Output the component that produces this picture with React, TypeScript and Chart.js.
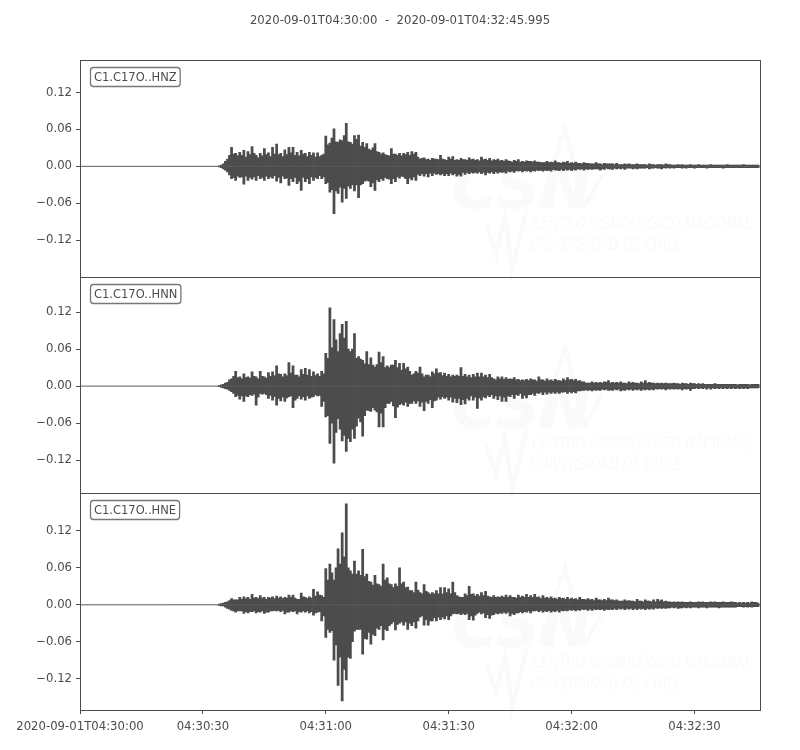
import { Chart, registerables, type Plugin } from "chart.js";
import { useEffect, useRef } from "react";

Chart.register(...registerables);

const TITLE = "2020-09-01T04:30:00  -  2020-09-01T04:32:45.995";
const INK = "#4c4c4c";
const FONT = "'DejaVu Sans'";
const TEXT_SIZE = 11.7;

// seconds after 04:30:00; before the onset the traces sit on zero
const ONSET = 34;
const END = 165.995;
const TIME_TICKS = ["2020-09-01T04:30:00", "04:30:30", "04:31:00", "04:31:30", "04:32:00", "04:32:30"];
const AMP_TICKS = [-0.12, -0.06, 0, 0.06, 0.12];
const CHANNELS = ["C1.C17O..HNZ", "C1.C17O..HNN", "C1.C17O..HNE"];
const baselineTimes = [0, END];
const baseline = [0, 0];

// swing on the whole second: first row is 34-39 s, then rows of ten
const hnzHigh = [
  0.001, 0.004, 0.012, 0.031, 0.021, 0.023,
  0.026, 0.024, 0.032, 0.018, 0.021, 0.029, 0.022, 0.031, 0.036, 0.021,
  0.027, 0.031, 0.031, 0.023, 0.026, 0.021, 0.023, 0.022, 0.022, 0.018,
  0.049, 0.038, 0.061, 0.039, 0.042, 0.07, 0.039, 0.05, 0.051, 0.039,
  0.037, 0.026, 0.037, 0.023, 0.022, 0.018, 0.029, 0.02, 0.021, 0.021,
  0.023, 0.024, 0.023, 0.012, 0.014, 0.012, 0.013, 0.012, 0.018, 0.011,
  0.015, 0.016, 0.011, 0.013, 0.011, 0.014, 0.012, 0.011, 0.015, 0.012,
  0.013, 0.011, 0.012, 0.01, 0.011, 0.008, 0.01, 0.011, 0.008, 0.009,
  0.008, 0.009, 0.007, 0.006, 0.008, 0.007, 0.009, 0.006, 0.007, 0.008,
  0.006, 0.007, 0.005, 0.006, 0.005, 0.004, 0.006, 0.004, 0.005, 0.004,
  0.004, 0.005, 0.003, 0.004, 0.004, 0.003, 0.004, 0.003, 0.003, 0.004,
  0.003, 0.003, 0.003, 0.004, 0.003, 0.002, 0.003, 0.003, 0.002, 0.003,
  0.002, 0.003, 0.002, 0.002, 0.003, 0.002, 0.002, 0.002, 0.003, 0.002,
  0.002, 0.002, 0.003, 0.002, 0.002, 0.002
];
const hnzLow = [
  -0.001, -0.004, -0.009, -0.02, -0.023, -0.018,
  -0.029, -0.023, -0.021, -0.023, -0.02, -0.023, -0.02, -0.019, -0.024, -0.027,
  -0.02, -0.031, -0.025, -0.028, -0.039, -0.025, -0.028, -0.023, -0.02, -0.02,
  -0.028, -0.042, -0.077, -0.044, -0.058, -0.052, -0.036, -0.04, -0.051, -0.028,
  -0.023, -0.033, -0.039, -0.025, -0.023, -0.02, -0.028, -0.025, -0.019, -0.017,
  -0.028, -0.022, -0.023, -0.015, -0.016, -0.017, -0.015, -0.013, -0.014, -0.015,
  -0.015, -0.014, -0.016, -0.016, -0.013, -0.012, -0.011, -0.011, -0.012, -0.014,
  -0.011, -0.012, -0.011, -0.01, -0.011, -0.009, -0.01, -0.008, -0.009, -0.008,
  -0.009, -0.008, -0.007, -0.008, -0.007, -0.008, -0.006, -0.007, -0.007, -0.006,
  -0.007, -0.006, -0.005, -0.006, -0.005, -0.005, -0.004, -0.006, -0.005, -0.004,
  -0.005, -0.004, -0.004, -0.005, -0.003, -0.004, -0.004, -0.003, -0.003, -0.004,
  -0.003, -0.003, -0.004, -0.003, -0.003, -0.003, -0.002, -0.003, -0.003, -0.002,
  -0.003, -0.002, -0.002, -0.003, -0.002, -0.002, -0.002, -0.003, -0.002, -0.002,
  -0.002, -0.002, -0.002, -0.002, -0.002, -0.002
];
const hnnHigh = [
  0.001, 0.003, 0.006, 0.012, 0.024, 0.015,
  0.02, 0.015, 0.023, 0.015, 0.024, 0.015, 0.022, 0.023, 0.033, 0.019,
  0.02, 0.038, 0.033, 0.018, 0.027, 0.029, 0.027, 0.023, 0.02, 0.024,
  0.053, 0.127, 0.108, 0.056, 0.1, 0.105, 0.056, 0.085, 0.048, 0.042,
  0.056, 0.046, 0.031, 0.055, 0.048, 0.033, 0.034, 0.042, 0.037, 0.037,
  0.031, 0.018, 0.024, 0.031, 0.015, 0.018, 0.023, 0.028, 0.022, 0.021,
  0.019, 0.018, 0.018, 0.03, 0.019, 0.018, 0.019, 0.021, 0.021, 0.018,
  0.019, 0.012, 0.015, 0.015, 0.014, 0.012, 0.014, 0.011, 0.01, 0.011,
  0.012, 0.01, 0.015, 0.01, 0.012, 0.01, 0.011, 0.009, 0.012, 0.014,
  0.011, 0.011, 0.009, 0.007, 0.005, 0.007, 0.006, 0.006, 0.007, 0.009,
  0.006, 0.006, 0.007, 0.005, 0.007, 0.006, 0.005, 0.007, 0.009, 0.006,
  0.005, 0.005, 0.005, 0.005, 0.004, 0.005, 0.004, 0.005, 0.004, 0.005,
  0.004, 0.004, 0.004, 0.003, 0.003, 0.004, 0.003, 0.003, 0.003, 0.003,
  0.003, 0.003, 0.003, 0.003, 0.003, 0.003
];
const hnnLow = [
  -0.001, -0.003, -0.005, -0.009, -0.017, -0.021,
  -0.025, -0.017, -0.015, -0.031, -0.012, -0.012, -0.02, -0.023, -0.031, -0.024,
  -0.025, -0.017, -0.035, -0.02, -0.021, -0.023, -0.02, -0.017, -0.016, -0.033,
  -0.05, -0.093, -0.125, -0.053, -0.089, -0.106, -0.09, -0.085, -0.052, -0.081,
  -0.039, -0.041, -0.039, -0.066, -0.066, -0.028, -0.025, -0.051, -0.03, -0.031,
  -0.033, -0.028, -0.028, -0.033, -0.04, -0.028, -0.035, -0.023, -0.021, -0.02,
  -0.023, -0.026, -0.027, -0.03, -0.029, -0.023, -0.023, -0.036, -0.023, -0.019,
  -0.017, -0.02, -0.022, -0.025, -0.025, -0.017, -0.02, -0.015, -0.02, -0.019,
  -0.014, -0.015, -0.012, -0.014, -0.013, -0.012, -0.012, -0.012, -0.01, -0.012,
  -0.011, -0.011, -0.008, -0.007, -0.007, -0.008, -0.007, -0.007, -0.006, -0.007,
  -0.007, -0.006, -0.008, -0.007, -0.006, -0.007, -0.006, -0.007, -0.006, -0.006,
  -0.006, -0.005, -0.005, -0.006, -0.005, -0.005, -0.005, -0.006, -0.005, -0.007,
  -0.004, -0.004, -0.004, -0.005, -0.005, -0.004, -0.004, -0.004, -0.004, -0.004,
  -0.004, -0.004, -0.004, -0.004, -0.003, -0.003
];
const hneHigh = [
  0.001, 0.003, 0.005, 0.01, 0.008, 0.012,
  0.013, 0.012, 0.017, 0.012, 0.015, 0.012, 0.012, 0.013, 0.014, 0.013,
  0.012, 0.016, 0.016, 0.009, 0.019, 0.012, 0.013, 0.025, 0.021, 0.015,
  0.059, 0.066, 0.04, 0.091, 0.117, 0.164, 0.055, 0.071, 0.055, 0.09,
  0.05, 0.037, 0.048, 0.033, 0.066, 0.044, 0.033, 0.034, 0.06, 0.037,
  0.029, 0.023, 0.037, 0.02, 0.033, 0.02, 0.02, 0.023, 0.028, 0.028,
  0.026, 0.037, 0.015, 0.012, 0.018, 0.03, 0.018, 0.017, 0.02, 0.022,
  0.013, 0.015, 0.013, 0.014, 0.016, 0.015, 0.012, 0.016, 0.014, 0.017,
  0.015, 0.017, 0.013, 0.015, 0.012, 0.013, 0.011, 0.012, 0.011, 0.012,
  0.011, 0.01, 0.012, 0.009, 0.01, 0.009, 0.011, 0.008, 0.009, 0.011,
  0.008, 0.008, 0.006, 0.008, 0.007, 0.006, 0.009, 0.006, 0.008, 0.006,
  0.008, 0.009, 0.008, 0.006, 0.005, 0.005, 0.005, 0.005, 0.004, 0.005,
  0.004, 0.005, 0.005, 0.004, 0.005, 0.005, 0.004, 0.005, 0.004, 0.005,
  0.004, 0.004, 0.004, 0.004, 0.005, 0.004
];
const hneLow = [
  -0.001, -0.002, -0.006, -0.009, -0.012, -0.01,
  -0.014, -0.013, -0.011, -0.013, -0.012, -0.014, -0.012, -0.01, -0.01, -0.011,
  -0.015, -0.012, -0.011, -0.015, -0.012, -0.012, -0.013, -0.017, -0.012, -0.026,
  -0.053, -0.045, -0.09, -0.131, -0.156, -0.122, -0.087, -0.043, -0.04, -0.08,
  -0.056, -0.064, -0.05, -0.04, -0.057, -0.042, -0.031, -0.041, -0.03, -0.033,
  -0.04, -0.034, -0.038, -0.02, -0.033, -0.033, -0.026, -0.026, -0.024, -0.023,
  -0.024, -0.015, -0.015, -0.016, -0.016, -0.024, -0.025, -0.014, -0.015, -0.021,
  -0.022, -0.016, -0.015, -0.014, -0.014, -0.018, -0.016, -0.013, -0.013, -0.012,
  -0.013, -0.01, -0.011, -0.012, -0.011, -0.012, -0.011, -0.012, -0.01, -0.01,
  -0.009, -0.01, -0.009, -0.008, -0.009, -0.009, -0.008, -0.008, -0.009, -0.008,
  -0.008, -0.008, -0.007, -0.008, -0.007, -0.008, -0.008, -0.007, -0.008, -0.007,
  -0.007, -0.006, -0.006, -0.006, -0.005, -0.005, -0.006, -0.005, -0.005, -0.005,
  -0.004, -0.005, -0.004, -0.005, -0.004, -0.004, -0.005, -0.004, -0.004, -0.004,
  -0.004, -0.003, -0.004, -0.004, -0.004, -0.003
];

// swing on the half second, same rows: the denser body between the tall spikes
const hnzMidHigh = [
  0.002, 0.008, 0.018, 0.02, 0.017, 0.018,
  0.015, 0.019, 0.021, 0.014, 0.017, 0.019, 0.016, 0.02, 0.019, 0.016,
  0.019, 0.022, 0.018, 0.017, 0.02, 0.016, 0.018, 0.015, 0.016, 0.02,
  0.035, 0.046, 0.04, 0.043, 0.05, 0.04, 0.036, 0.044, 0.033, 0.031,
  0.028, 0.03, 0.024, 0.02, 0.019, 0.017, 0.02, 0.018, 0.017, 0.019,
  0.018, 0.02, 0.015, 0.013, 0.011, 0.01, 0.012, 0.011, 0.012, 0.01,
  0.012, 0.01, 0.01, 0.011, 0.01, 0.011, 0.01, 0.009, 0.011, 0.01,
  0.009, 0.01, 0.009, 0.008, 0.009, 0.007, 0.008, 0.007, 0.007, 0.008,
  0.007, 0.007, 0.006, 0.006, 0.006, 0.006, 0.006, 0.005, 0.006, 0.005,
  0.005, 0.005, 0.004, 0.005, 0.004, 0.004, 0.004, 0.003, 0.004, 0.004,
  0.003, 0.003, 0.003, 0.003, 0.003, 0.003, 0.003, 0.003, 0.002, 0.003,
  0.002, 0.003, 0.002, 0.003, 0.002, 0.002, 0.002, 0.002, 0.002, 0.002,
  0.002, 0.002, 0.002, 0.002, 0.002, 0.002, 0.002, 0.002, 0.002, 0.002,
  0.002, 0.002, 0.002, 0.002, 0.002, 0.002
];
const hnzMidLow = [
  -0.002, -0.006, -0.014, -0.018, -0.016, -0.017,
  -0.016, -0.018, -0.017, -0.015, -0.018, -0.016, -0.017, -0.015, -0.018, -0.016,
  -0.019, -0.02, -0.018, -0.024, -0.018, -0.02, -0.017, -0.018, -0.015, -0.017,
  -0.026, -0.038, -0.04, -0.034, -0.036, -0.032, -0.03, -0.03, -0.03, -0.024,
  -0.024, -0.027, -0.022, -0.02, -0.018, -0.021, -0.02, -0.017, -0.016, -0.02,
  -0.019, -0.017, -0.013, -0.012, -0.012, -0.011, -0.011, -0.012, -0.012, -0.012,
  -0.011, -0.012, -0.013, -0.01, -0.01, -0.01, -0.01, -0.009, -0.01, -0.01,
  -0.009, -0.009, -0.009, -0.009, -0.008, -0.008, -0.007, -0.007, -0.007, -0.007,
  -0.007, -0.006, -0.006, -0.006, -0.006, -0.005, -0.006, -0.005, -0.005, -0.005,
  -0.005, -0.004, -0.004, -0.004, -0.004, -0.004, -0.004, -0.004, -0.003, -0.004,
  -0.003, -0.003, -0.003, -0.003, -0.003, -0.003, -0.003, -0.003, -0.002, -0.003,
  -0.002, -0.003, -0.002, -0.002, -0.002, -0.002, -0.002, -0.002, -0.002, -0.002,
  -0.002, -0.002, -0.002, -0.002, -0.002, -0.002, -0.002, -0.002, -0.002, -0.002,
  -0.002, -0.002, -0.002, -0.002, -0.002, -0.002
];
const hnnMidHigh = [
  0.002, 0.005, 0.01, 0.016, 0.014, 0.012,
  0.014, 0.013, 0.016, 0.012, 0.016, 0.013, 0.016, 0.017, 0.02, 0.015,
  0.017, 0.021, 0.018, 0.015, 0.019, 0.018, 0.016, 0.017, 0.016, 0.02,
  0.045, 0.062, 0.075, 0.085, 0.078, 0.06, 0.06, 0.045, 0.044, 0.036,
  0.035, 0.034, 0.035, 0.038, 0.03, 0.03, 0.034, 0.03, 0.026, 0.028,
  0.024, 0.02, 0.021, 0.02, 0.018, 0.015, 0.02, 0.021, 0.017, 0.016,
  0.015, 0.016, 0.016, 0.016, 0.015, 0.014, 0.015, 0.015, 0.015, 0.014,
  0.014, 0.01, 0.012, 0.011, 0.011, 0.011, 0.01, 0.009, 0.009, 0.009,
  0.01, 0.008, 0.01, 0.008, 0.009, 0.008, 0.009, 0.008, 0.009, 0.01,
  0.009, 0.008, 0.007, 0.005, 0.005, 0.005, 0.005, 0.005, 0.006, 0.005,
  0.005, 0.005, 0.005, 0.004, 0.005, 0.005, 0.004, 0.005, 0.005, 0.005,
  0.004, 0.004, 0.004, 0.004, 0.004, 0.004, 0.003, 0.004, 0.003, 0.004,
  0.003, 0.003, 0.003, 0.003, 0.003, 0.003, 0.003, 0.003, 0.003, 0.003,
  0.002, 0.003, 0.003, 0.002, 0.003, 0.003
];
const hnnMidLow = [
  -0.002, -0.004, -0.007, -0.012, -0.015, -0.016,
  -0.016, -0.014, -0.013, -0.018, -0.013, -0.014, -0.015, -0.017, -0.02, -0.018,
  -0.019, -0.016, -0.023, -0.016, -0.017, -0.016, -0.018, -0.014, -0.015, -0.025,
  -0.048, -0.06, -0.075, -0.07, -0.08, -0.085, -0.07, -0.065, -0.058, -0.048,
  -0.04, -0.035, -0.042, -0.044, -0.035, -0.028, -0.032, -0.034, -0.028, -0.026,
  -0.028, -0.024, -0.024, -0.026, -0.025, -0.022, -0.024, -0.018, -0.017, -0.018,
  -0.018, -0.02, -0.02, -0.022, -0.02, -0.016, -0.018, -0.019, -0.017, -0.015,
  -0.014, -0.016, -0.016, -0.018, -0.016, -0.014, -0.014, -0.012, -0.015, -0.014,
  -0.012, -0.011, -0.01, -0.01, -0.01, -0.01, -0.01, -0.01, -0.009, -0.009,
  -0.009, -0.008, -0.007, -0.006, -0.006, -0.006, -0.006, -0.005, -0.005, -0.006,
  -0.005, -0.005, -0.006, -0.005, -0.005, -0.005, -0.005, -0.005, -0.005, -0.005,
  -0.004, -0.004, -0.004, -0.004, -0.004, -0.004, -0.004, -0.004, -0.004, -0.004,
  -0.003, -0.003, -0.003, -0.003, -0.003, -0.003, -0.003, -0.003, -0.003, -0.003,
  -0.003, -0.003, -0.003, -0.003, -0.003, -0.003
];
const hneMidHigh = [
  0.002, 0.004, 0.007, 0.008, 0.008, 0.009,
  0.01, 0.009, 0.011, 0.01, 0.011, 0.009, 0.011, 0.01, 0.011, 0.01,
  0.011, 0.012, 0.011, 0.009, 0.013, 0.01, 0.011, 0.014, 0.016, 0.012,
  0.04, 0.052, 0.06, 0.066, 0.078, 0.06, 0.05, 0.05, 0.048, 0.046,
  0.038, 0.032, 0.034, 0.03, 0.04, 0.034, 0.028, 0.03, 0.034, 0.028,
  0.023, 0.02, 0.024, 0.018, 0.022, 0.017, 0.018, 0.018, 0.018, 0.02,
  0.018, 0.02, 0.013, 0.012, 0.015, 0.017, 0.014, 0.014, 0.015, 0.014,
  0.012, 0.012, 0.012, 0.012, 0.012, 0.012, 0.011, 0.012, 0.012, 0.012,
  0.012, 0.012, 0.01, 0.011, 0.01, 0.01, 0.009, 0.01, 0.009, 0.009,
  0.009, 0.008, 0.009, 0.008, 0.008, 0.007, 0.008, 0.007, 0.007, 0.008,
  0.007, 0.006, 0.006, 0.006, 0.006, 0.005, 0.006, 0.005, 0.006, 0.005,
  0.005, 0.006, 0.005, 0.005, 0.004, 0.004, 0.004, 0.004, 0.004, 0.004,
  0.004, 0.004, 0.004, 0.004, 0.004, 0.004, 0.004, 0.004, 0.004, 0.004,
  0.003, 0.003, 0.003, 0.003, 0.004, 0.003
];
const hneMidLow = [
  -0.002, -0.004, -0.007, -0.01, -0.01, -0.01,
  -0.011, -0.011, -0.01, -0.011, -0.01, -0.012, -0.01, -0.009, -0.009, -0.009,
  -0.012, -0.01, -0.01, -0.011, -0.01, -0.01, -0.011, -0.013, -0.011, -0.018,
  -0.04, -0.042, -0.065, -0.085, -0.105, -0.085, -0.06, -0.04, -0.04, -0.055,
  -0.045, -0.048, -0.038, -0.034, -0.04, -0.034, -0.028, -0.032, -0.028, -0.028,
  -0.03, -0.028, -0.026, -0.018, -0.024, -0.026, -0.021, -0.02, -0.02, -0.018,
  -0.018, -0.014, -0.014, -0.014, -0.014, -0.018, -0.017, -0.012, -0.013, -0.016,
  -0.017, -0.013, -0.013, -0.012, -0.012, -0.014, -0.013, -0.011, -0.011, -0.01,
  -0.01, -0.009, -0.009, -0.01, -0.009, -0.01, -0.009, -0.009, -0.009, -0.008,
  -0.008, -0.008, -0.007, -0.007, -0.007, -0.007, -0.007, -0.007, -0.007, -0.007,
  -0.006, -0.006, -0.006, -0.006, -0.006, -0.006, -0.006, -0.006, -0.006, -0.006,
  -0.005, -0.005, -0.005, -0.005, -0.004, -0.004, -0.005, -0.004, -0.004, -0.004,
  -0.004, -0.004, -0.004, -0.004, -0.004, -0.004, -0.004, -0.004, -0.004, -0.004,
  -0.003, -0.003, -0.003, -0.003, -0.003, -0.003
];

function spikes(high: number[], low: number[], offset: number) {
  return high.map((value, i) => ({ x: ONSET + i + offset, y: [low[i], value] }));
}

function traceDatasets(
  yAxisID: string,
  high: number[],
  low: number[],
  midHigh: number[],
  midLow: number[]
) {
  const bars = { type: "bar", yAxisID, backgroundColor: INK, barThickness: 2.1, grouped: false };
  return [
    {
      type: "line",
      yAxisID,
      data: baselineTimes.map((x, i) => ({ x, y: baseline[i] })),
      borderColor: "#5c5c5c",
      borderWidth: 1,
      pointRadius: 0
    },
    { ...bars, data: spikes(midHigh, midLow, 0.5) },
    { ...bars, data: spikes(high, low, 0) }
  ];
}

function ampAxis(min: number, max: number) {
  return {
    type: "linear" as const,
    position: "left" as const,
    stack: "traces",
    stackWeight: 1,
    min,
    max,
    afterBuildTicks(scale: any) {
      scale.ticks = AMP_TICKS.map((value) => ({ value }));
    },
    afterFit(scale: any) {
      scale.width = 80;
    },
    border: { display: false },
    grid: { drawOnChartArea: false, color: INK, tickLength: 4 },
    ticks: {
      color: INK,
      font: { family: FONT, size: TEXT_SIZE },
      padding: 4,
      callback: (value: any) => Number(value).toFixed(2).replace("-", "\u2212")
    }
  };
}

// the faint agency mark behind every trace
const watermark: Plugin = {
  id: "watermark",
  beforeDatasetsDraw(chart) {
    const { ctx } = chart;
    ["y1", "y2", "y3"].forEach((id) => {
      const dy = chart.scales[id].getPixelForValue(0) - 166;
      ctx.save();
      ctx.translate(0, dy);
      ctx.fillStyle = "#fafafa";
      ctx.strokeStyle = "#fafafa";
      ctx.font = `italic bold 62px ${FONT}`;
      ctx.textBaseline = "alphabetic";
      ctx.fillText("CSN", 452, 208);
      ctx.font = `italic 17px ${FONT}`;
      ctx.fillText("CENTRO SISMOLÓGICO NACIONAL", 532, 229, 220);
      ctx.fillText("UNIVERSIDAD DE CHILE", 530, 250, 152);
      ctx.lineWidth = 4;
      ctx.beginPath();
      ctx.moveTo(540, 205);
      ctx.lineTo(565, 128);
      ctx.lineTo(585, 205);
      ctx.lineTo(602, 175);
      ctx.stroke();
      ctx.beginPath();
      ctx.moveTo(487, 225);
      ctx.lineTo(496, 255);
      ctx.lineTo(505, 215);
      ctx.lineTo(512, 270);
      ctx.lineTo(527, 208);
      ctx.stroke();
      ctx.restore();
    });
  }
};

// closed frame round each panel, channel label boxes and the page title
const frames: Plugin = {
  id: "frames",
  afterDraw(chart) {
    const { ctx, chartArea } = chart;
    ctx.save();
    ctx.font = `${TEXT_SIZE}px ${FONT}`;
    ctx.fillStyle = INK;
    ctx.textAlign = "center";
    ctx.textBaseline = "middle";
    ctx.fillText(TITLE, 400, 21);
    ctx.restore();

    ["y1", "y2", "y3"].forEach((id, i) => {
      const scale = chart.scales[id];
      const top = Math.round(scale.top);
      const bottom = Math.round(scale.bottom);
      ctx.save();
      ctx.strokeStyle = INK;
      ctx.lineWidth = 1;
      ctx.strokeRect(Math.round(chartArea.left) + 0.5, top + 0.5, Math.round(chartArea.width), bottom - top);
      ctx.font = `11.5px ${FONT}`;
      const width = ctx.measureText(CHANNELS[i]).width + 7;
      ctx.fillStyle = "#ffffff";
      ctx.strokeStyle = "#777777";
      ctx.lineWidth = 1.3;
      ctx.beginPath();
      ctx.roundRect(90.5, top + 7.5, width, 19, 3);
      ctx.fill();
      ctx.stroke();
      ctx.fillStyle = INK;
      ctx.textBaseline = "middle";
      ctx.fillText(CHANNELS[i], 94, top + 18);
      ctx.restore();
    });
  }
};

export default function App() {
  const canvasRef = useRef<HTMLCanvasElement | null>(null);

  useEffect(() => {
    const canvas = canvasRef.current;
    if (!canvas) {
      return;
    }

    const chart = new Chart(canvas, {
      type: "line",
      data: {
        datasets: [
          ...traceDatasets("y1", hnzHigh, hnzLow, hnzMidHigh, hnzMidLow),
          ...traceDatasets("y2", hnnHigh, hnnLow, hnnMidHigh, hnnMidLow),
          ...traceDatasets("y3", hneHigh, hneLow, hneMidHigh, hneMidLow)
        ] as any
      },
      plugins: [watermark, frames],
      options: {
        animation: false,
        responsive: false,
        layout: { padding: { top: 60, right: 40 } },
        plugins: {
          legend: { display: false },
          tooltip: { enabled: false }
        },
        scales: {
          x: {
            type: "linear",
            offset: false,
            min: 0,
            max: END,
            afterFit(scale: any) {
              scale.height = 40;
            },
            border: { display: false },
            grid: { offset: false, drawOnChartArea: false, color: INK, tickLength: 4 },
            ticks: {
              stepSize: 30,
              includeBounds: false,
              autoSkip: false,
              maxRotation: 0,
              color: INK,
              font: { family: FONT, size: TEXT_SIZE },
              padding: 6,
              callback: (value: any, index: number) => TIME_TICKS[index]
            }
          },
          y3: ampAxis(-0.1709, 0.1811),
          y2: ampAxis(-0.1739, 0.1775),
          y1: ampAxis(-0.1792, 0.1728)
        }
      }
    });

    return () => chart.destroy();
  }, []);

  return (
    <div style={{ position: "absolute", left: 0, top: 0, width: 800, height: 750 }}>
      <canvas ref={canvasRef} width={800} height={750} style={{ display: "block" }} />
    </div>
  );
}
